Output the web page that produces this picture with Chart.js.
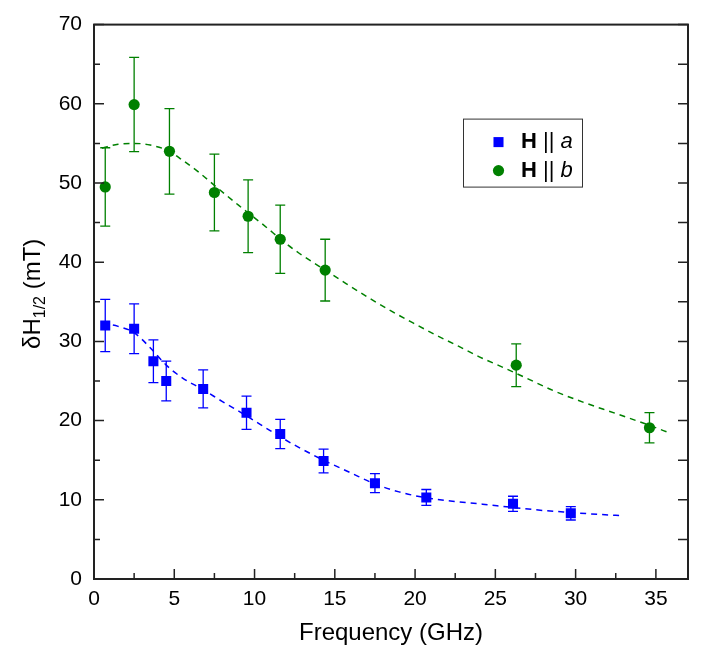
<!DOCTYPE html>
<html>
<head>
<meta charset="utf-8">
<title>Linewidth vs frequency</title>
<script src="https://cdn.jsdelivr.net/npm/chart.js@4.4.1/dist/chart.umd.min.js"></script>
<style>
  html, body { margin: 0; padding: 0; background: #fff; }
  #wrap { width: 705px; height: 656px; }
</style>
</head>
<body>
<div id="wrap"><canvas id="linewidthChart"></canvas></div>
<script>
// H || a  (blue squares)
const freqA = [0.7, 2.5, 3.7, 4.5, 6.8, 9.5, 11.6, 14.3, 17.5, 20.7, 26.1, 29.7];
const widthA = [32.0, 31.6, 27.5, 25.0, 24.0, 21.0, 18.3, 14.9, 12.1, 10.3, 9.5, 8.3];
const errA = [3.3, 3.15, 2.7, 2.5, 2.4, 2.1, 1.85, 1.5, 1.2, 1.0, 0.95, 0.85];

// H || b  (green circles)
const freqB = [0.7, 2.5, 4.7, 7.5, 9.6, 11.6, 14.4, 26.3, 34.6];
const widthB = [49.5, 59.9, 54.0, 48.8, 45.8, 42.9, 39.0, 27.0, 19.1];
const errB = [4.95, 5.95, 5.4, 4.85, 4.6, 4.3, 3.9, 2.7, 1.9];

// dashed fit curves
const fitFreqA = [0.5, 1.5, 2.5, 3.5, 4.5, 5.5, 6.8, 8.0, 9.5, 11.0, 12.5, 14.3, 16.0, 17.5, 19.0, 20.7, 22.2, 24.2, 26.0, 28.0, 29.7, 31.5, 33.0];
const fitWidthA = [32.3, 31.9, 31.1, 29.2, 27.0, 25.4, 23.9, 22.4, 20.6, 18.7, 16.9, 15.0, 13.4, 12.0, 11.0, 10.25, 9.85, 9.45, 9.05, 8.65, 8.4, 8.15, 8.0];
const fitFreqB = [0.5, 1.5, 2.5, 3.5, 4.7, 5.5, 6.5, 7.5, 9.0, 10.5, 12.0, 12.8, 14.4, 15.7, 17.2, 18.5, 19.9, 21.2, 22.7, 24.0, 25.5, 26.9, 28.6, 30.5, 32.5, 34.6, 35.9];
const fitWidthB = [54.4, 54.9, 55.0, 54.8, 54.0, 52.9, 51.4, 49.7, 47.2, 44.8, 42.3, 41.1, 39.0, 37.3, 35.4, 33.85, 32.3, 30.9, 29.4, 28.05, 26.7, 25.4, 23.8, 22.3, 20.9, 19.4, 18.4];

const xTickValues = [0, 5, 10, 15, 20, 25, 30, 35];
const yTickValues = [0, 10, 20, 30, 40, 50, 60, 70];

const BLUE = "#0000ff";
const GREEN = "#008000";
const FONT = "'Liberation Sans', Arial, Helvetica, sans-serif";

const toPoints = (xs, ys) => xs.map((x, i) => ({ x, y: ys[i] }));

// vertical error bars with caps, drawn under the markers
const errorBars = {
  id: "errorBars",
  beforeDatasetsDraw(chart) {
    const { ctx, scales: { y } } = chart;
    ctx.save();
    chart.data.datasets.forEach((ds, i) => {
      if (!ds.errors) return;
      const meta = chart.getDatasetMeta(i);
      ctx.strokeStyle = ds.backgroundColor;
      ctx.lineWidth = 1.3;
      ctx.beginPath();
      meta.data.forEach((pt, j) => {
        const v = ds.data[j].y;
        const top = y.getPixelForValue(v + ds.errors[j]);
        const bot = y.getPixelForValue(v - ds.errors[j]);
        ctx.moveTo(pt.x, top); ctx.lineTo(pt.x, bot);
        ctx.moveTo(pt.x - 5, top); ctx.lineTo(pt.x + 5, top);
        ctx.moveTo(pt.x - 5, bot); ctx.lineTo(pt.x + 5, bot);
      });
      ctx.stroke();
    });
    ctx.restore();
  }
};

// box frame with inward ticks (bottom, left, right)
const frameTicks = {
  id: "frameTicks",
  afterDatasetsDraw(chart) {
    const { ctx, chartArea: a, scales: { x, y } } = chart;
    ctx.save();
    ctx.strokeStyle = "#222";
    ctx.lineWidth = 1.5;
    ctx.beginPath();
    x.ticks.forEach(t => {
      const px = x.getPixelForValue(t.value);
      ctx.moveTo(px, a.bottom); ctx.lineTo(px, a.bottom - 10);
      const m = t.value + 2.5;
      if (m < x.max) {
        const pm = x.getPixelForValue(m);
        ctx.moveTo(pm, a.bottom); ctx.lineTo(pm, a.bottom - 6);
      }
    });
    y.ticks.forEach(t => {
      const py = y.getPixelForValue(t.value);
      ctx.moveTo(a.left, py); ctx.lineTo(a.left + 10, py);
      ctx.moveTo(a.right, py); ctx.lineTo(a.right - 10, py);
      const m = t.value + 5;
      if (m < y.max) {
        const pm = y.getPixelForValue(m);
        ctx.moveTo(a.left, pm); ctx.lineTo(a.left + 6, pm);
        ctx.moveTo(a.right, pm); ctx.lineTo(a.right - 10, pm);
      }
    });
    ctx.stroke();
    ctx.lineWidth = 2;
    ctx.strokeRect(a.left, a.top, a.right - a.left, a.bottom - a.top);
    ctx.restore();
  }
};

// y title with subscript: δH1/2 (mT)
const yTitle = {
  id: "yTitle",
  afterDraw(chart) {
    const { ctx, chartArea: a } = chart;
    const big = "24px " + FONT, small = "16px " + FONT;
    ctx.save();
    ctx.font = big;
    const w1 = ctx.measureText("\u03B4H").width;
    const w3 = ctx.measureText(" (mT)").width;
    ctx.font = small;
    const w2 = ctx.measureText("1/2").width;
    const total = w1 + w2 + w3;
    ctx.translate(40, (a.top + a.bottom) / 2 - 8);
    ctx.rotate(-Math.PI / 2);
    ctx.fillStyle = "#000";
    ctx.textBaseline = "alphabetic";
    let cx = -total / 2;
    ctx.font = big; ctx.fillText("\u03B4H", cx, 0); cx += w1;
    ctx.font = small; ctx.fillText("1/2", cx, 5); cx += w2;
    ctx.font = big; ctx.fillText(" (mT)", cx, 0);
    ctx.restore();
  }
};

// legend: bold H, normal ||, italic a / b
const richLegend = {
  id: "richLegend",
  afterDraw(chart) {
    const { ctx, chartArea: a } = chart;
    const bx = a.left + 369, by = a.top + 94, bw = 119, bh = 68;
    ctx.save();
    ctx.strokeStyle = "#333";
    ctx.lineWidth = 1;
    ctx.strokeRect(bx + 0.5, by + 0.5, bw, bh);
    const rows = [
      { ds: chart.data.datasets[0], label: "a", dy: 23.5 },
      { ds: chart.data.datasets[1], label: "b", dy: 52 }
    ];
    rows.forEach(r => {
      const cy = by + r.dy;
      ctx.fillStyle = r.ds.backgroundColor;
      Chart.helpers.drawPoint(ctx, { pointStyle: r.ds.pointStyle, radius: r.ds.pointRadius, borderWidth: 0 }, bx + 35.5, cy);
      ctx.fillStyle = "#000";
      ctx.textBaseline = "middle";
      let tx = bx + 58;
      ctx.font = "bold 22px " + FONT; ctx.fillText("H", tx, cy); tx += ctx.measureText("H").width;
      ctx.font = "22px " + FONT; ctx.fillText(" || ", tx, cy); tx += ctx.measureText(" || ").width;
      ctx.font = "italic 22px " + FONT; ctx.fillText(r.label, tx, cy);
    });
    ctx.restore();
  }
};

new Chart(document.getElementById("linewidthChart"), {
  type: "scatter",
  data: {
    datasets: [
      {
        label: "H || a",
        data: toPoints(freqA, widthA),
        errors: errA,
        pointStyle: "rect",
        pointRadius: 7.1,
        backgroundColor: BLUE,
        borderColor: BLUE,
        borderWidth: 0
      },
      {
        label: "H || b",
        data: toPoints(freqB, widthB),
        errors: errB,
        pointStyle: "circle",
        pointRadius: 5.6,
        backgroundColor: GREEN,
        borderColor: GREEN,
        borderWidth: 0
      },
      {
        label: "fit a",
        type: "line",
        data: toPoints(fitFreqA, fitWidthA),
        borderColor: BLUE,
        borderWidth: 1.5,
        borderDash: [6, 5],
        pointRadius: 0,
        cubicInterpolationMode: "monotone",
        fill: false
      },
      {
        label: "fit b",
        type: "line",
        data: toPoints(fitFreqB, fitWidthB),
        borderColor: GREEN,
        borderWidth: 1.5,
        borderDash: [6, 5],
        pointRadius: 0,
        cubicInterpolationMode: "monotone",
        fill: false
      }
    ]
  },
  options: {
    responsive: true,
    maintainAspectRatio: false,
    animation: false,
    layout: { padding: { top: 17, right: 17, left: 0, bottom: 0 } },
    plugins: {
      legend: { display: false },
      tooltip: { enabled: false }
    },
    scales: {
      x: {
        type: "linear",
        min: 0,
        max: 37,
        afterBuildTicks: s => { s.ticks = xTickValues.map(v => ({ value: v })); },
        afterFit: s => { s.height = 77; },
        grid: { display: false, drawTicks: false },
        border: { display: false },
        ticks: { color: "#000", padding: 8, font: { family: FONT, size: 21 } },
        title: {
          display: true,
          text: "Frequency (GHz)",
          color: "#000",
          font: { family: FONT, size: 24 },
          padding: { top: 0, bottom: 8 }
        }
      },
      y: {
        type: "linear",
        min: 0,
        max: 70,
        afterBuildTicks: s => { s.ticks = yTickValues.map(v => ({ value: v })); },
        afterFit: s => { s.width = 94; },
        grid: { display: false, drawTicks: false },
        border: { display: false },
        ticks: { color: "#000", padding: 12, font: { family: FONT, size: 21 } }
      }
    }
  },
  plugins: [errorBars, frameTicks, yTitle, richLegend]
});
</script>
</body>
</html>
